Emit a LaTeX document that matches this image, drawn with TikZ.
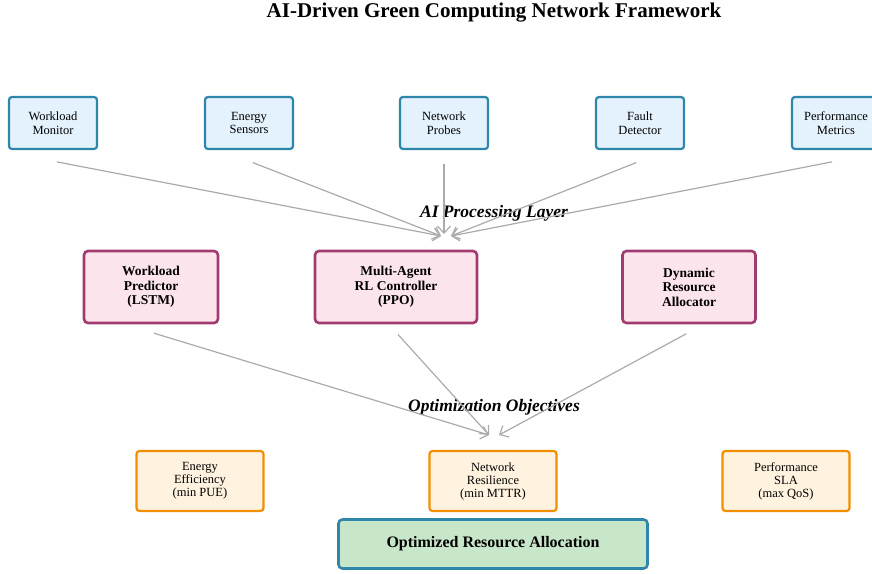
\documentclass[tikz,border=0pt]{standalone}
\usepackage{fontspec}
\setmainfont{Liberation Serif}
\usetikzlibrary{arrows.meta}

\definecolor{inblue}{HTML}{2E86AB}
\definecolor{inbluefill}{HTML}{E3F2FD}
\definecolor{aipink}{HTML}{A23B72}
\definecolor{aipinkfill}{HTML}{FCE4EC}
\definecolor{objorange}{HTML}{F18F01}
\definecolor{objorangefill}{HTML}{FFF3E0}
\definecolor{outgreenfill}{HTML}{C8E6C9}
\definecolor{flowgray}{HTML}{AAAAAA}

\begin{document}
\begin{tikzpicture}[x=1pt, y=-1pt,
    inbox/.style={draw=inblue, fill=inbluefill, line width=2.2pt, rounded corners=3pt,
        minimum width=88pt, minimum height=52pt, align=center,
        font=\fontsize{12.5}{13.5}\selectfont},
    aibox/.style={draw=aipink, fill=aipinkfill, line width=2.6pt, rounded corners=4pt,
        minimum height=72pt, align=center, font=\fontsize{13.5}{14.5}\selectfont\bfseries},
    objbox/.style={draw=objorange, fill=objorangefill, line width=2.2pt, rounded corners=3pt,
        minimum width=127pt, minimum height=60pt, align=center,
        font=\fontsize{12.5}{13}\selectfont},
    outbox/.style={draw=inblue, fill=outgreenfill, line width=2.6pt, rounded corners=4pt,
        minimum width=309pt, minimum height=49pt, font=\fontsize{16}{18}\selectfont\bfseries},
    layer/.style={anchor=base, font=\fontsize{17.5}{19}\selectfont\bfseries\itshape},
    flow/.style={draw=flowgray, line width=1.2pt, -{Straight Barb[length=7pt,width=13pt]}}]
    \useasboundingbox (0,0) rectangle (872,573);

    \node[anchor=base, font=\fontsize{21}{23}\selectfont\bfseries] (title) at (494,17)
        {AI-Driven Green Computing Network Framework};

    % input layer
    \node[inbox] (wmon) at (53,123) {Workload\\Monitor};
    \node[inbox] (esen) at (249,123) {Energy\\Sensors};
    \node[inbox] (nprb) at (444,123) {Network\\Probes};
    \node[inbox] (fdet) at (640,123) {Fault\\Detector};
    \node[inbox] (pmet) at (836,123) {Performance\\Metrics};

    \coordinate (aileft) at (441,236);
    \coordinate (aimid) at (444,234);
    \coordinate (airight) at (451,236);
    \node[layer] (ailabel) at (494,217) {AI Processing Layer};

    \draw[flow, shorten <=4pt] ([yshift=-11pt]wmon.south) -- (aileft);
    \draw[flow, shorten <=4pt] ([yshift=-11pt]esen.south) -- (aileft);
    \draw[flow] ([yshift=-14pt]nprb.south) -- (aimid);
    \draw[flow, shorten <=4pt] ([yshift=-11pt]fdet.south) -- (airight);
    \draw[flow, shorten <=4pt] ([yshift=-11pt]pmet.south) -- (airight);

    % AI layer
    \node[aibox, minimum width=134pt] (wpred) at (151,287) {Workload\\Predictor\\(LSTM)};
    \node[aibox, minimum width=162pt] (marl) at (396,287) {Multi-Agent\\RL Controller\\(PPO)};
    \node[aibox, minimum width=133pt] (dalloc) at (689,287) {Dynamic\\Resource\\Allocator};

    \coordinate (objleft) at (489,435);
    \coordinate (objright) at (499,435);
    \node[layer] (objlabel) at (494,411) {Optimization Objectives};

    \draw[flow, shorten <=3pt] ([yshift=-8pt]wpred.south) -- (objleft);
    \draw[flow, shorten <=3pt] ([yshift=-8pt]marl.south) -- (objleft);
    \draw[flow, shorten <=3pt] ([yshift=-8pt]dalloc.south) -- (objright);

    % objectives
    \node[objbox] (eeff) at (200,481) {Energy\\Efficiency\\(min PUE)};
    \node[objbox] (nres) at (493,481) {Network\\Resilience\\(min MTTR)};
    \node[objbox] (psla) at (786,481) {Performance\\SLA\\(max QoS)};

    \node[outbox] (final) at (493,544) {Optimized Resource Allocation};
\end{tikzpicture}
\end{document}
